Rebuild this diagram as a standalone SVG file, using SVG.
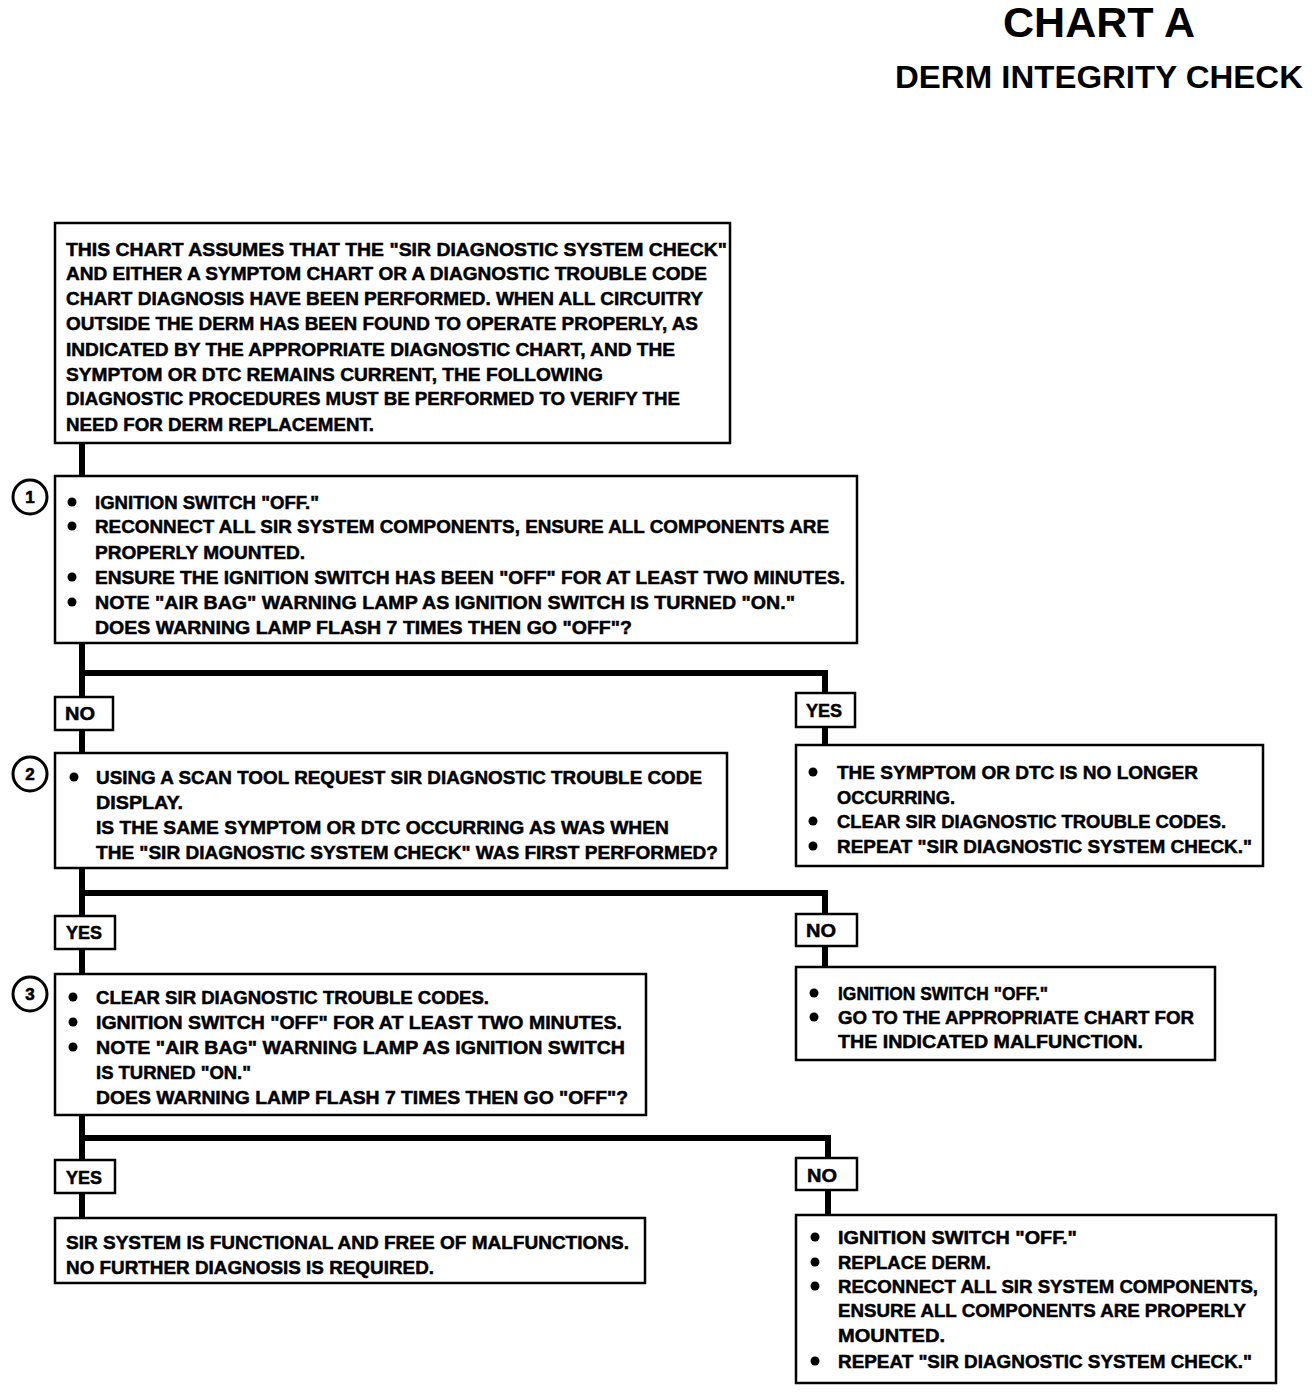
<svg xmlns="http://www.w3.org/2000/svg" width="1312" height="1392" viewBox="0 0 1312 1392">
<style>
text{font-family:"Liberation Sans",Arial,sans-serif;font-weight:bold;fill:#000;}
.t{font-size:18.5px;stroke:#000;stroke-width:0.5;}
.lbl{font-size:18.5px;stroke:#000;stroke-width:0.5;}
.box{fill:#fff;stroke:#000;stroke-width:2.5;}
.conn{fill:none;stroke:#000;stroke-width:6;}
.num{fill:#fff;stroke:#000;stroke-width:3;}
.nt{font-size:17px;stroke:#000;stroke-width:0.6;}
.b{fill:#000;}
</style>
<text x="1099" y="37" font-size="42" text-anchor="middle" textLength="192" lengthAdjust="spacingAndGlyphs">CHART A</text>
<text x="1099" y="88" font-size="32" text-anchor="middle" textLength="408" lengthAdjust="spacingAndGlyphs">DERM INTEGRITY CHECK</text>

<g id="connectors">
<path class="conn" d="M82,443 V476"/>
<path class="conn" d="M82,643 V753 M82,673 H825 V745"/>
<path class="conn" d="M82,868 V974 M82,893 H825 V967"/>
<path class="conn" d="M82,1115 V1218 M82,1138 H828 V1215"/>
</g>

<g id="intro">
<rect class="box" x="55" y="223" width="675" height="220"/>
<text class="t" x="66" y="256" textLength="661" lengthAdjust="spacingAndGlyphs">THIS CHART ASSUMES THAT THE "SIR DIAGNOSTIC SYSTEM CHECK"</text>
<text class="t" x="66" y="280" textLength="641" lengthAdjust="spacingAndGlyphs">AND EITHER A SYMPTOM CHART OR A DIAGNOSTIC TROUBLE CODE</text>
<text class="t" x="66" y="305" textLength="637" lengthAdjust="spacingAndGlyphs">CHART DIAGNOSIS HAVE BEEN PERFORMED.  WHEN ALL CIRCUITRY</text>
<text class="t" x="66" y="330" textLength="632" lengthAdjust="spacingAndGlyphs">OUTSIDE THE DERM HAS BEEN FOUND TO OPERATE PROPERLY, AS</text>
<text class="t" x="66" y="356" textLength="609" lengthAdjust="spacingAndGlyphs">INDICATED BY THE APPROPRIATE DIAGNOSTIC CHART, AND THE</text>
<text class="t" x="66" y="381" textLength="537" lengthAdjust="spacingAndGlyphs">SYMPTOM OR DTC REMAINS CURRENT, THE FOLLOWING</text>
<text class="t" x="66" y="405" textLength="614" lengthAdjust="spacingAndGlyphs">DIAGNOSTIC PROCEDURES MUST BE PERFORMED TO VERIFY THE</text>
<text class="t" x="66" y="431" textLength="308" lengthAdjust="spacingAndGlyphs">NEED FOR DERM REPLACEMENT.</text>
</g>

<g id="step1">
<circle class="num" cx="30" cy="497" r="17"/>
<text class="nt" x="30" y="503" text-anchor="middle">1</text>
<rect class="box" x="55" y="476" width="802" height="167"/>
<circle class="b" cx="72" cy="502" r="4.5"/>
<circle class="b" cx="72" cy="526" r="4.5"/>
<circle class="b" cx="72" cy="577" r="4.5"/>
<circle class="b" cx="72" cy="602" r="4.5"/>
<text class="t" x="95" y="509" textLength="224" lengthAdjust="spacingAndGlyphs">IGNITION SWITCH "OFF."</text>
<text class="t" x="95" y="533" textLength="734" lengthAdjust="spacingAndGlyphs">RECONNECT ALL SIR SYSTEM COMPONENTS, ENSURE ALL COMPONENTS ARE</text>
<text class="t" x="95" y="559" textLength="210" lengthAdjust="spacingAndGlyphs">PROPERLY MOUNTED.</text>
<text class="t" x="95" y="584" textLength="750" lengthAdjust="spacingAndGlyphs">ENSURE THE IGNITION SWITCH HAS BEEN "OFF" FOR AT LEAST TWO MINUTES.</text>
<text class="t" x="95" y="609" textLength="700" lengthAdjust="spacingAndGlyphs">NOTE "AIR BAG" WARNING LAMP AS IGNITION SWITCH IS TURNED "ON."</text>
<text class="t" x="95" y="634" textLength="537" lengthAdjust="spacingAndGlyphs">DOES WARNING LAMP FLASH 7 TIMES THEN GO "OFF"?</text>
</g>

<g id="label1-no">
<rect class="box" x="55" y="697" width="58" height="33"/>
<text class="lbl" x="65" y="720" textLength="30" lengthAdjust="spacingAndGlyphs">NO</text>
</g>
<g id="label1-yes">
<rect class="box" x="796" y="693" width="59" height="34"/>
<text class="lbl" x="806" y="717" textLength="36" lengthAdjust="spacingAndGlyphs">YES</text>
</g>

<g id="result1-yes">
<rect class="box" x="796" y="745" width="467" height="121"/>
<circle class="b" cx="813" cy="772" r="4.5"/>
<circle class="b" cx="813" cy="821" r="4.5"/>
<circle class="b" cx="813" cy="846" r="4.5"/>
<text class="t" x="837" y="779" textLength="361" lengthAdjust="spacingAndGlyphs">THE SYMPTOM OR DTC IS NO LONGER</text>
<text class="t" x="837" y="804" textLength="118" lengthAdjust="spacingAndGlyphs">OCCURRING.</text>
<text class="t" x="837" y="828" textLength="389" lengthAdjust="spacingAndGlyphs">CLEAR SIR DIAGNOSTIC TROUBLE CODES.</text>
<text class="t" x="837" y="853" textLength="415" lengthAdjust="spacingAndGlyphs">REPEAT "SIR DIAGNOSTIC SYSTEM CHECK."</text>
</g>

<g id="step2">
<circle class="num" cx="30" cy="774" r="17"/>
<text class="nt" x="30" y="780" text-anchor="middle">2</text>
<rect class="box" x="55" y="753" width="672" height="115"/>
<circle class="b" cx="74" cy="777" r="4.5"/>
<text class="t" x="96" y="784" textLength="606" lengthAdjust="spacingAndGlyphs">USING A SCAN TOOL REQUEST SIR DIAGNOSTIC TROUBLE CODE</text>
<text class="t" x="96" y="809" textLength="87" lengthAdjust="spacingAndGlyphs">DISPLAY.</text>
<text class="t" x="96" y="834" textLength="573" lengthAdjust="spacingAndGlyphs">IS THE SAME SYMPTOM OR DTC OCCURRING AS WAS WHEN</text>
<text class="t" x="96" y="859" textLength="622" lengthAdjust="spacingAndGlyphs">THE "SIR DIAGNOSTIC SYSTEM CHECK" WAS FIRST PERFORMED?</text>
</g>

<g id="label2-yes">
<rect class="box" x="55" y="916" width="60" height="33"/>
<text class="lbl" x="66" y="939" textLength="36" lengthAdjust="spacingAndGlyphs">YES</text>
</g>
<g id="label2-no">
<rect class="box" x="796" y="914" width="61" height="32"/>
<text class="lbl" x="806" y="937" textLength="30" lengthAdjust="spacingAndGlyphs">NO</text>
</g>

<g id="result2-no">
<rect class="box" x="796" y="967" width="419" height="93"/>
<circle class="b" cx="814" cy="993" r="4.5"/>
<circle class="b" cx="814" cy="1017" r="4.5"/>
<text class="t" x="838" y="1000" textLength="210" lengthAdjust="spacingAndGlyphs">IGNITION SWITCH "OFF."</text>
<text class="t" x="838" y="1024" textLength="356" lengthAdjust="spacingAndGlyphs">GO TO THE APPROPRIATE CHART FOR</text>
<text class="t" x="838" y="1048" textLength="305" lengthAdjust="spacingAndGlyphs">THE INDICATED MALFUNCTION.</text>
</g>

<g id="step3">
<circle class="num" cx="30" cy="994" r="17"/>
<text class="nt" x="30" y="1000" text-anchor="middle">3</text>
<rect class="box" x="55" y="974" width="591" height="141"/>
<circle class="b" cx="73" cy="997" r="4.5"/>
<circle class="b" cx="73" cy="1022" r="4.5"/>
<circle class="b" cx="73" cy="1047" r="4.5"/>
<text class="t" x="96" y="1004" textLength="393" lengthAdjust="spacingAndGlyphs">CLEAR SIR DIAGNOSTIC TROUBLE CODES.</text>
<text class="t" x="96" y="1029" textLength="526" lengthAdjust="spacingAndGlyphs">IGNITION SWITCH "OFF" FOR AT LEAST TWO MINUTES.</text>
<text class="t" x="96" y="1054" textLength="529" lengthAdjust="spacingAndGlyphs">NOTE "AIR BAG" WARNING LAMP AS IGNITION SWITCH</text>
<text class="t" x="96" y="1079" textLength="155" lengthAdjust="spacingAndGlyphs">IS TURNED "ON."</text>
<text class="t" x="96" y="1104" textLength="532" lengthAdjust="spacingAndGlyphs">DOES WARNING LAMP FLASH 7 TIMES THEN GO "OFF"?</text>
</g>

<g id="label3-yes">
<rect class="box" x="55" y="1160" width="60" height="33"/>
<text class="lbl" x="66" y="1184" textLength="36" lengthAdjust="spacingAndGlyphs">YES</text>
</g>
<g id="label3-no">
<rect class="box" x="796" y="1158" width="61" height="32"/>
<text class="lbl" x="807" y="1182" textLength="30" lengthAdjust="spacingAndGlyphs">NO</text>
</g>

<g id="result3-yes">
<rect class="box" x="55" y="1218" width="590" height="65"/>
<text class="t" x="66" y="1249" textLength="563" lengthAdjust="spacingAndGlyphs">SIR SYSTEM IS FUNCTIONAL AND FREE OF MALFUNCTIONS.</text>
<text class="t" x="66" y="1274" textLength="368" lengthAdjust="spacingAndGlyphs">NO FURTHER DIAGNOSIS IS REQUIRED.</text>
</g>

<g id="result3-no">
<rect class="box" x="796" y="1215" width="480" height="168"/>
<circle class="b" cx="815" cy="1237" r="4.5"/>
<circle class="b" cx="815" cy="1262" r="4.5"/>
<circle class="b" cx="815" cy="1286" r="4.5"/>
<circle class="b" cx="815" cy="1361" r="4.5"/>
<text class="t" x="838" y="1244" textLength="239" lengthAdjust="spacingAndGlyphs">IGNITION SWITCH "OFF."</text>
<text class="t" x="838" y="1269" textLength="153" lengthAdjust="spacingAndGlyphs">REPLACE DERM.</text>
<text class="t" x="838" y="1293" textLength="420" lengthAdjust="spacingAndGlyphs">RECONNECT ALL SIR SYSTEM COMPONENTS,</text>
<text class="t" x="838" y="1317" textLength="408" lengthAdjust="spacingAndGlyphs">ENSURE ALL COMPONENTS ARE PROPERLY</text>
<text class="t" x="838" y="1342" textLength="107" lengthAdjust="spacingAndGlyphs">MOUNTED.</text>
<text class="t" x="838" y="1368" textLength="414" lengthAdjust="spacingAndGlyphs">REPEAT "SIR DIAGNOSTIC SYSTEM CHECK."</text>
</g>
</svg>
